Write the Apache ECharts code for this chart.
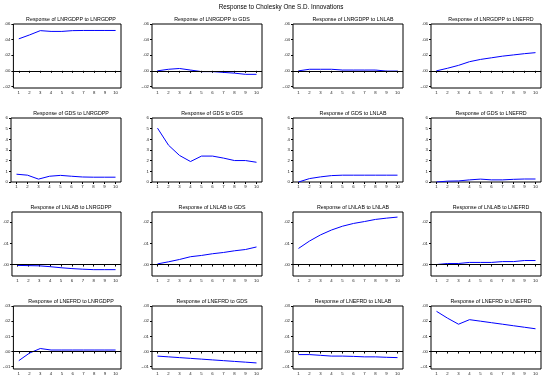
<!DOCTYPE html>
<html>
<head>
<meta charset="utf-8">
<script src="https://cdn.jsdelivr.net/npm/echarts@6/dist/echarts.min.js"></script>
<style>
  html, body { margin: 0; padding: 0; background: #fff; }
  #chart { width: 546px; height: 376px; }
</style>
</head>
<body>
<div id="chart"></div>
<script>
// periods on the x axis
const periods = ['1', '2', '3', '4', '5', '6', '7', '8', '9', '10'];
const variables = ['LNRGDPP', 'GDS', 'LNLAB', 'LNEFRD'];

// responses of LNRGDPP
const lnrgdpp_to_lnrgdpp = [0.041, 0.046, 0.0515, 0.0505, 0.0505, 0.0515, 0.0517, 0.0517, 0.0517, 0.0517];
const lnrgdpp_to_gds     = [0.0, 0.002, 0.003, 0.001, -0.001, -0.001, -0.002, -0.003, -0.0045, -0.0045];
const lnrgdpp_to_lnlab   = [0.0, 0.002, 0.002, 0.002, 0.001, 0.001, 0.001, 0.001, -0.0003, -0.0003];
const lnrgdpp_to_lnefrd  = [0.0, 0.0033, 0.007, 0.0117, 0.0146, 0.0167, 0.0188, 0.0204, 0.022, 0.0233];

// responses of GDS
const gds_to_lnrgdpp = [0.73, 0.64, 0.27, 0.54, 0.62, 0.54, 0.47, 0.45, 0.45, 0.45];
const gds_to_gds     = [5.05, 3.45, 2.49, 1.92, 2.43, 2.43, 2.24, 2.01, 2.01, 1.85];
const gds_to_lnlab   = [0.0, 0.32, 0.48, 0.6, 0.64, 0.64, 0.64, 0.64, 0.64, 0.64];
const gds_to_lnefrd  = [0.0, 0.08, 0.1, 0.2, 0.27, 0.2, 0.2, 0.25, 0.28, 0.28];

// responses of LNLAB
const lnlab_to_lnrgdpp = [-0.0004, -0.0005, -0.0006, -0.001, -0.0015, -0.0019, -0.0022, -0.0024, -0.0024, -0.0024];
const lnlab_to_gds     = [0.0003, 0.0013, 0.0024, 0.0037, 0.0043, 0.0051, 0.0057, 0.0065, 0.0071, 0.0083];
const lnlab_to_lnlab   = [0.0076, 0.0111, 0.014, 0.0163, 0.0181, 0.0194, 0.0203, 0.0213, 0.0219, 0.0224];
const lnlab_to_lnefrd  = [0.0, 0.0005, 0.0005, 0.001, 0.001, 0.001, 0.0014, 0.0014, 0.0019, 0.0019];

// responses of LNEFRD
const lnefrd_to_lnrgdpp = [-0.006, -0.001, 0.002, 0.001, 0.001, 0.001, 0.001, 0.001, 0.001, 0.001];
const lnefrd_to_gds     = [-0.003, -0.0035, -0.004, -0.0045, -0.005, -0.0055, -0.006, -0.0065, -0.007, -0.0075];
const lnefrd_to_lnlab   = [-0.002, -0.002, -0.0025, -0.003, -0.003, -0.0032, -0.0035, -0.0035, -0.0038, -0.004];
const lnefrd_to_lnefrd  = [0.0265, 0.022, 0.018, 0.021, 0.02, 0.019, 0.018, 0.017, 0.016, 0.015];

// y tick labels per row
const row1Ticks = [-0.02, 0, 0.02, 0.04, 0.06];
const row2Ticks = [0, 1, 2, 3, 4, 5, 6];
const row3Ticks = [0, 0.01, 0.02];
const row4Ticks = [-0.01, 0, 0.01, 0.02, 0.03];

const responses = [
    [lnrgdpp_to_lnrgdpp, lnrgdpp_to_gds, lnrgdpp_to_lnlab, lnrgdpp_to_lnefrd],
    [gds_to_lnrgdpp, gds_to_gds, gds_to_lnlab, gds_to_lnefrd],
    [lnlab_to_lnrgdpp, lnlab_to_gds, lnlab_to_lnlab, lnlab_to_lnefrd],
    [lnefrd_to_lnrgdpp, lnefrd_to_gds, lnefrd_to_lnlab, lnefrd_to_lnefrd]
];

/*************** layout **************/
const FONT = '"Liberation Sans", Arial, sans-serif';
const colLeft = [11, 152, 293, 431];
const rowTop = [24, 118, 212, 306];
const W = 110, H = 64;
const rows = [
    {min: -0.022, max: 0.06, ticks: row1Ticks, zero: true, dec: 2},
    {min: 0, max: 6, ticks: row2Ticks, zero: false, dec: 0},
    {min: -0.0054, max: 0.0248, ticks: row3Ticks, zero: true, dec: 2},
    {min: -0.0115, max: 0.03, ticks: row4Ticks, zero: true, dec: 2}
];

function fmt(v, dec) {
    if (dec === 0) return String(Math.round(v));
    let s = v.toFixed(dec);
    return s.replace(/^(-?)0\./, '$1.');
}

const grid = [], xAxis = [], yAxis = [], series = [];
const title = [{
    text: 'Response to Cholesky One S.D. Innovations',
    left: 276, top: -1, textAlign: 'center',
    textStyle: {fontSize: 6.3, fontWeight: 'normal', color: '#000', fontFamily: FONT}
}];

for (let r = 0; r < 4; r++) {
    for (let c = 0; c < 4; c++) {
        const i = r * 4 + c;
        const cfg = rows[r];
        grid.push({
            left: colLeft[c], top: rowTop[r], width: W, height: H,
            show: true, borderColor: '#000', borderWidth: 1, backgroundColor: 'transparent'
        });
        title.push({
            text: 'Response of ' + variables[r] + ' to ' + variables[c],
            left: colLeft[c] + W / 2, top: rowTop[r] - 12, textAlign: 'center',
            textStyle: {fontSize: 5.3, fontWeight: 'normal', color: '#000', fontFamily: FONT}
        });
        xAxis.push({
            type: 'category', gridIndex: i, data: periods, boundaryGap: true,
            axisLine: {show: false},
            axisTick: {show: true, alignWithLabel: true, length: 2, lineStyle: {color: '#000'}},
            axisLabel: {fontSize: 4.3, color: '#222', margin: 3, interval: 0, fontFamily: FONT}
        });
        yAxis.push({
            type: 'value', gridIndex: i, min: cfg.min, max: cfg.max,
            axisLine: {show: false},
            splitLine: {show: false},
            axisTick: {show: true, length: 2, customValues: cfg.ticks, lineStyle: {color: '#000'}},
            axisLabel: {
                fontSize: 4.3, color: '#222', margin: 3, fontFamily: FONT,
                customValues: cfg.ticks,
                formatter: v => fmt(v, cfg.dec)
            }
        });
        const s = {
            type: 'line', xAxisIndex: i, yAxisIndex: i,
            data: responses[r][c],
            showSymbol: false,
            lineStyle: {color: '#0000ff', width: 1},
            itemStyle: {color: '#0000ff'}
        };
        if (cfg.zero) {
            s.markLine = {
                silent: true, symbol: 'none',
                label: {show: false},
                lineStyle: {color: '#000', width: 1, type: 'solid'},
                data: [{yAxis: 0}]
            };
        }
        series.push(s);
    }
}

const chart = echarts.init(document.getElementById('chart'));
chart.setOption({
    animation: false,
    backgroundColor: '#fff',
    title: title,
    grid: grid,
    xAxis: xAxis,
    yAxis: yAxis,
    series: series
});
</script>
</body>
</html>
